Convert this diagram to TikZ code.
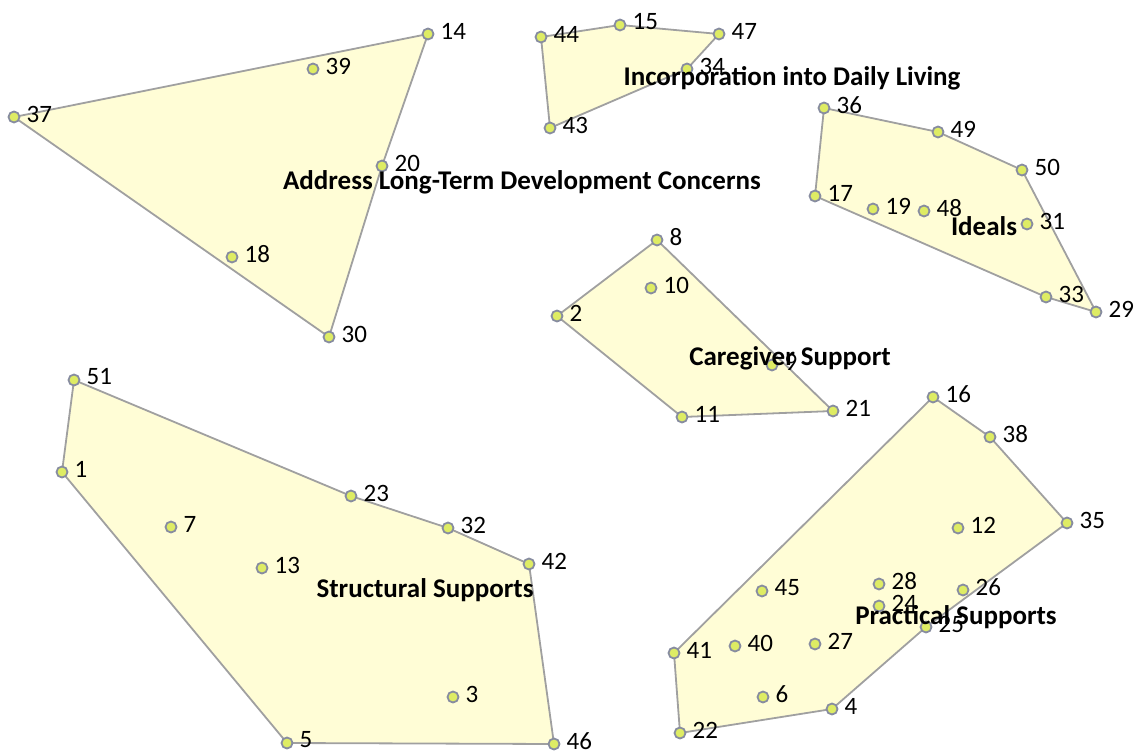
\documentclass[tikz,border=0pt]{standalone}
\usepackage{fontspec}
\setmainfont{Carlito}
\usetikzlibrary{backgrounds}
\definecolor{polyfill}{RGB}{255,253,214}
\definecolor{polyedge}{RGB}{160,160,160}
\definecolor{ptfill}{RGB}{222,236,100}
\definecolor{ptedge}{RGB}{135,140,160}
\tikzset{
  pt/.style={circle,draw=ptedge,fill=ptfill,line width=1.8pt,minimum size=11pt,inner sep=0pt},
  numlbl/.style={anchor=west,inner sep=0pt,font=\fontsize{25}{28}\selectfont},
  grp/.style={inner sep=0pt,font=\fontsize{27}{30}\selectfont\bfseries},
  poly/.style={draw=polyedge,fill=polyfill,line width=1.8pt,line join=round}
}
\newcommand{\pnt}[3]{\node[pt] (p#1) at (#2,#3) {};\node[numlbl] (l#1) at ([xshift=6pt,yshift=3pt]p#1.east) {#1};}
\begin{document}
\begin{tikzpicture}[x=1pt,y=-1pt]
\useasboundingbox (0,0) rectangle (1143,751);
% Address Long-Term Development Concerns
\pnt{37}{14}{117}
\pnt{39}{313}{69}
\pnt{14}{428}{34}
\pnt{20}{382}{166}
\pnt{18}{232}{257}
\pnt{30}{329}{337}
% Incorporation into Daily Living
\pnt{44}{541}{37}
\pnt{15}{620}{25}
\pnt{47}{719}{34}
\pnt{34}{687}{69}
\pnt{43}{550}{128}
% Ideals
\pnt{36}{824}{108}
\pnt{49}{938}{132}
\pnt{50}{1022}{170}
\pnt{17}{815}{196}
\pnt{19}{873}{209}
\pnt{48}{924}{211}
\pnt{31}{1027}{224}
\pnt{33}{1046}{297}
\pnt{29}{1096}{312}
% Caregiver Support
\pnt{8}{657}{240}
\pnt{10}{651}{288}
\pnt{2}{557}{316}
\pnt{9}{772}{365}
\pnt{11}{682}{417}
\pnt{21}{833}{411}
% Structural Supports
\pnt{51}{74}{380}
\pnt{1}{62}{472}
\pnt{7}{171}{527}
\pnt{23}{351}{496}
\pnt{32}{448}{528}
\pnt{42}{529}{564}
\pnt{13}{262}{568}
\pnt{3}{453}{697}
\pnt{5}{287}{743}
\pnt{46}{554}{744}
% Practical Supports
\pnt{16}{933}{397}
\pnt{38}{990}{437}
\pnt{35}{1067}{523}
\pnt{12}{958}{528}
\pnt{26}{963}{590}
\pnt{28}{879}{584}
\pnt{24}{879}{606}
\pnt{25}{926}{627}
\pnt{45}{762}{591}
\pnt{40}{735}{646}
\pnt{27}{815}{644}
\pnt{41}{674}{653}
\pnt{6}{763}{697}
\pnt{4}{832}{709}
\pnt{22}{680}{733}
% group labels
\node[grp] (gA) at (522,182) {Address Long-Term Development Concerns};
\node[grp] (gI) at (792,78) {Incorporation into Daily Living};
\node[grp] (gD) at (984,226) {Ideals};
\node[grp] (gC) at (790,358) {Caregiver Support};
\node[grp] (gS) at (425,590) {Structural Supports};
\node[grp] (gP) at (956,617) {Practical Supports};
\begin{pgfonlayer}{background}
\draw[poly] (p37.center) -- (p14.center) -- (p20.center) -- (p30.center) -- cycle;
\draw[poly] (p44.center) -- (p15.center) -- (p47.center) -- (p34.center) -- (p43.center) -- cycle;
\draw[poly] (p36.center) -- (p49.center) -- (p50.center) -- (p29.center) -- (p33.center) -- (p17.center) -- cycle;
\draw[poly] (p8.center) -- (p21.center) -- (p11.center) -- (p2.center) -- cycle;
\draw[poly] (p51.center) -- (p23.center) -- (p32.center) -- (p42.center) -- (p46.center) -- (p5.center) -- (p1.center) -- cycle;
\draw[poly] (p16.center) -- (p38.center) -- (p35.center) -- (p25.center) -- (p4.center) -- (p22.center) -- (p41.center) -- cycle;
\end{pgfonlayer}
\end{tikzpicture}
\end{document}
